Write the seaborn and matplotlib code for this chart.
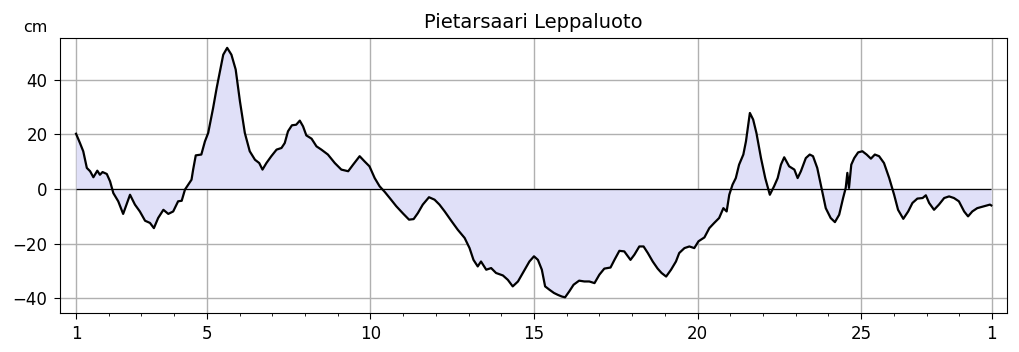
import matplotlib
matplotlib.use('Agg')
import matplotlib.pyplot as plt
import seaborn as sns
import numpy as np
from matplotlib.ticker import FixedLocator, MultipleLocator

# days since 1st of month (Feb), sea level in cm
days = [0.00, 0.12, 0.22, 0.33, 0.43, 0.53, 0.65, 0.73, 0.81, 0.94,
        1.04, 1.14, 1.29, 1.44, 1.65, 1.80, 1.95, 2.11, 2.26, 2.38,
        2.51, 2.67, 2.82, 2.97, 3.12, 3.23, 3.33, 3.43, 3.53, 3.58,
        3.66, 3.83, 3.94, 4.04, 4.19, 4.30, 4.40, 4.50, 4.62, 4.75,
        4.88, 5.01, 5.16, 5.31, 5.47, 5.60, 5.70, 5.82, 5.97, 6.13,
        6.28, 6.38, 6.48, 6.60, 6.73, 6.84, 6.94, 7.04, 7.20, 7.35,
        7.50, 7.70, 7.91, 8.11, 8.32, 8.47, 8.67, 8.82, 8.97, 9.13,
        9.28, 9.44, 9.59, 9.79, 10.00, 10.18, 10.32, 10.45, 10.60, 10.79,
        10.96, 11.11, 11.27, 11.47, 11.67, 11.88, 12.03, 12.15, 12.28, 12.38,
        12.54, 12.69, 12.84, 13.05, 13.20, 13.35, 13.51, 13.66, 13.86, 14.00,
        14.12, 14.24, 14.34, 14.47, 14.61, 14.73, 14.85, 14.95, 15.08, 15.21,
        15.38, 15.54, 15.69, 15.85, 16.00, 16.15, 16.34, 16.46, 16.61, 16.76,
        16.95, 17.07, 17.22, 17.35, 17.48, 17.63, 17.78, 17.90, 18.04, 18.19,
        18.34, 18.44, 18.60, 18.75, 18.90, 19.03, 19.21, 19.36, 19.51, 19.66,
        19.79, 19.89, 19.97, 20.07, 20.17, 20.27, 20.40, 20.48, 20.60, 20.70,
        20.80, 20.94, 21.07, 21.21, 21.34, 21.45, 21.55, 21.65, 21.80, 21.96,
        22.06, 22.16, 22.31, 22.43, 22.53, 22.66, 22.80, 22.92, 23.07, 23.20,
        23.33, 23.45, 23.53, 23.58, 23.63, 23.70, 23.79, 23.91, 24.04, 24.17,
        24.30, 24.42, 24.55, 24.70, 24.86, 25.01, 25.13, 25.29, 25.44, 25.57,
        25.72, 25.88, 25.98, 26.08, 26.23, 26.38, 26.54, 26.69, 26.84, 26.99,
        27.15, 27.27, 27.40, 27.55, 27.76, 27.94, 27.98]
level = [20.2, 16.8, 13.8, 7.7, 6.5, 4.3, 6.7, 5.2, 6.2, 5.5,
         2.8, -1.5, -4.5, -9.1, -2.1, -5.7, -8.2, -11.6, -12.4, -14.3,
         -10.6, -7.6, -9.1, -8.2, -4.5, -4.3, -0.2, 1.6, 3.4, 7.1,
         12.3, 12.6, 17.4, 20.5, 29.6, 37.0, 43.0, 49.1, 51.6, 49.1,
         43.7, 32.1, 20.5, 13.8, 10.7, 9.5, 7.1, 9.5, 12.0, 14.4,
         15.0, 16.8, 21.1, 23.3, 23.5, 25.0, 22.9, 19.6, 18.4, 15.6,
         14.4, 12.6, 9.5, 7.1, 6.5, 8.9, 12.0, 10.1, 8.3, 4.0,
         1.0, -1.1, -3.3, -6.3, -9.0, -11.2, -11.0, -8.8, -5.7, -3.0,
         -3.9, -5.7, -8.2, -11.6, -14.9, -17.9, -21.6, -25.9, -28.3, -26.5,
         -29.5, -28.9, -30.7, -31.6, -33.2, -35.6, -33.8, -30.7, -26.5, -24.6,
         -25.9, -29.5, -35.6, -36.8, -38.0, -38.7, -39.3, -39.6, -37.4, -35.0,
         -33.5, -33.8, -33.8, -34.4, -31.3, -29.1, -28.7, -25.9, -22.6, -22.8,
         -25.9, -24.0, -21.0, -21.0, -23.4, -26.5, -29.1, -30.7, -32.0, -29.5,
         -26.5, -23.4, -21.6, -21.0, -21.6, -19.1, -17.7, -14.3, -12.4, -10.6,
         -7.0, -8.2, -2.1, 1.6, 4.0, 8.9, 12.6, 17.4, 27.8, 25.4,
         20.5, 11.3, 4.0, -2.1, 1.0, 4.0, 8.9, 11.6, 8.3, 7.1,
         4.0, 6.5, 11.3, 12.6, 12.0, 7.7, -0.2, -7.0, -10.6, -12.1,
         -9.4, -3.3, 0.4, 5.9, 0.4, 8.9, 11.3, 13.4, 13.8, 12.6,
         11.1, 12.6, 12.0, 9.5, 4.0, -2.1, -7.6, -10.9, -8.2, -5.1,
         -3.5, -3.3, -2.3, -5.1, -7.6, -5.7, -3.3, -2.7, -3.3, -4.5,
         -8.2, -10.0, -8.2, -7.0, -6.3, -5.7, -6.0]

tick_days = [0, 4, 9, 14, 19, 24, 28]
tick_labels = ['1', '5', '10', '15', '20', '25', '1']
title = 'Pietarsaari Leppaluoto'

days = np.array(days)
level = np.array(level)

fig = plt.figure(figsize=(10.19, 3.52), dpi=100)
ax = fig.add_axes([0.0589, 0.111, 0.9293, 0.781])

ax.fill_between(days, level, 0, color='#e0e0f8', lw=0, zorder=1)
ax.hlines(0, days[0], days[-1], color='k', lw=0.9, zorder=2)
sns.lineplot(x=days, y=level, color='k', lw=1.6, ax=ax, sort=False, zorder=3)

ax.set_xlim(-0.49, 28.46)
ax.set_ylim(-45.3, 55.2)
ax.xaxis.set_major_locator(FixedLocator(tick_days))
ax.set_xticklabels(tick_labels)
ax.xaxis.set_minor_locator(MultipleLocator(1))
ax.yaxis.set_major_locator(MultipleLocator(20))
ax.grid(True, which='major', color='#b0b0b0', lw=1)
ax.set_axisbelow(True)
ax.tick_params(labelsize=12, colors='k', length=4, pad=5)
ax.tick_params(which='minor', length=2.5)
for s in ax.spines.values():
    s.set_color('k')
ax.set_xlabel('')
ax.set_ylabel('')
ax.set_title(title, fontsize=14, pad=7)
ax.text(-0.013, 1.01, 'cm', transform=ax.transAxes, ha='right', va='bottom', fontsize=11.5)

fig.savefig('out.png', dpi=100)
